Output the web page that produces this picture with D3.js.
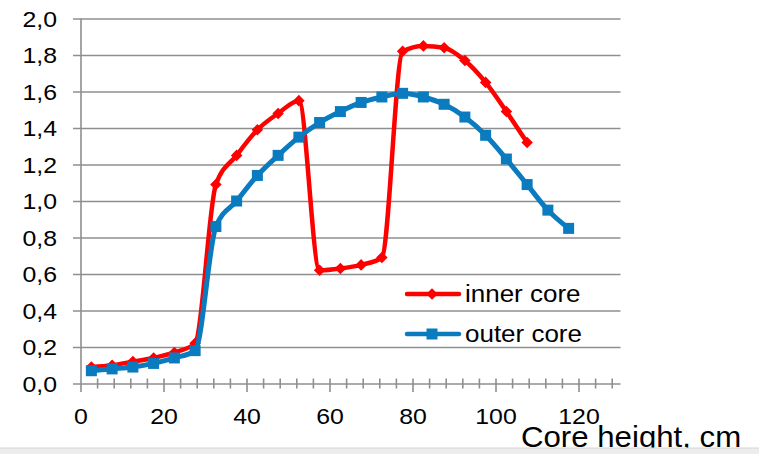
<!DOCTYPE html>
<html>
<head>
<meta charset="utf-8">
<script src="https://cdn.jsdelivr.net/npm/d3@7"></script>
<style>
  body { margin: 0; background: #fff; }
  text { font-family: "Liberation Sans", Arial, sans-serif; fill: #000; }
</style>
</head>
<body>
<script>
// core height positions, cm
const heights = [2.5, 7.5, 12.5, 17.5, 22.5, 27.5, 32.5, 37.5, 42.5, 47.5, 52.5, 57.5,
                 62.5, 67.5, 72.5, 77.5, 82.5, 87.5, 92.5, 97.5, 102.5, 107.5, 112.5, 117.5];
const innerCore = [0.09, 0.10, 0.12, 0.14, 0.17, 0.22, 1.09, 1.25, 1.39, 1.48, 1.55, 0.62,
                   0.63, 0.65, 0.69, 1.82, 1.85, 1.84, 1.77, 1.65, 1.49, 1.32];
const outerCore = [0.07, 0.08, 0.09, 0.11, 0.14, 0.18, 0.86, 1.00, 1.14, 1.25, 1.35, 1.43,
                   1.49, 1.54, 1.57, 1.59, 1.57, 1.53, 1.46, 1.36, 1.23, 1.09, 0.95, 0.85];
const yTicks = [0, 0.2, 0.4, 0.6, 0.8, 1.0, 1.2, 1.4, 1.6, 1.8, 2.0];
const xTicks = [0, 20, 40, 60, 80, 100, 120];
const seriesNames = ['inner core', 'outer core'];
const xTitle = 'Core height, cm';

const width  = 759;
const height = 454;
const red  = '#ff0000';
const blue = '#0b7bc0';
const grid = '#8f8f8f';

const svg = d3.select('body').append('svg')
    .attr('width', width)
    .attr('height', height);

const x = d3.scaleLinear().domain([0, 130]).range([81, 620.5]);
const y = d3.scaleLinear().domain([0, 2]).range([383.5, 18.5]);

// gridlines + left ticks
svg.append('g')
    .attr('transform', 'translate(81,0)')
    .call(d3.axisLeft(y).tickValues(yTicks).tickSize(8).tickFormat(''))
    .call(g => g.select('.domain').remove())
    .call(g => g.selectAll('line').attr('stroke', grid).attr('stroke-width', 1.6)
        .attr('x1', -8).attr('x2', x(130) - 81));

// y labels
svg.append('g').selectAll('text')
    .data(yTicks)
    .enter().append('text')
    .attr('transform', d => 'translate(57,' + (y(d) + 8) + ') scale(1.13,1)')
    .attr('text-anchor', 'end')
    .style('font-size', '22px')
    .text(d => d3.format('.1f')(d).replace('.', ','));

// vertical axis line
svg.append('line')
    .attr('x1', x(0)).attr('x2', x(0))
    .attr('y1', y(2)).attr('y2', y(0) + 8.5)
    .attr('stroke', grid).attr('stroke-width', 1.6);

// x minor ticks every 4
const minor = d3.range(4, 130, 4).filter(v => v % 20 !== 0);
svg.append('g').selectAll('line')
    .data(minor)
    .enter().append('line')
    .attr('x1', d => x(d)).attr('x2', d => x(d))
    .attr('y1', y(0) - 5).attr('y2', y(0) + 5)
    .attr('stroke', grid).attr('stroke-width', 1.6);

svg.append('g').selectAll('line')
    .data(xTicks.slice(1))
    .enter().append('line')
    .attr('x1', d => x(d)).attr('x2', d => x(d))
    .attr('y1', y(0) - 5).attr('y2', y(0) + 8.5)
    .attr('stroke', grid).attr('stroke-width', 1.6);

// x labels
svg.append('g').selectAll('text')
    .data(xTicks)
    .enter().append('text')
    .attr('transform', d => 'translate(' + x(d) + ',424) scale(1.13,1)')
    .attr('text-anchor', 'middle')
    .style('font-size', '22px')
    .text(d => d);

// series
const curve = d3.line()
    .x(d => x(d[0]))
    .y(d => y(d[1]))
    .curve(d3.curveMonotoneX);

const innerPts = innerCore.map((v, i) => [heights[i], v]);
const outerPts = outerCore.map((v, i) => [heights[i], v]);

const diamond = d3.symbol().type(d3.symbolDiamond2).size(85);

svg.append('path')
    .attr('d', curve(innerPts))
    .attr('fill', 'none').attr('stroke', red).attr('stroke-width', 4.5)
    .attr('stroke-linejoin', 'round');
svg.append('g').selectAll('path')
    .data(innerPts)
    .enter().append('path')
    .attr('d', diamond)
    .attr('transform', d => 'translate(' + x(d[0]) + ',' + y(d[1]) + ')')
    .attr('fill', red);

svg.append('path')
    .attr('d', curve(outerPts))
    .attr('fill', 'none').attr('stroke', blue).attr('stroke-width', 5)
    .attr('stroke-linejoin', 'round');
svg.append('g').selectAll('rect')
    .data(outerPts)
    .enter().append('rect')
    .attr('x', d => x(d[0]) - 5.5).attr('y', d => y(d[1]) - 5.5)
    .attr('width', 11).attr('height', 11)
    .attr('fill', blue);

// legend
const legend = svg.append('g');
const legendRows = [
  {name: seriesNames[0], color: red, ly: 294},
  {name: seriesNames[1], color: blue, ly: 334}
];
legendRows.forEach((r, i) => {
  legend.append('line')
      .attr('x1', 407).attr('x2', 459)
      .attr('y1', r.ly).attr('y2', r.ly)
      .attr('stroke', r.color).attr('stroke-width', 4.5)
      .attr('stroke-linecap', 'round');
  if (i === 0) {
    legend.append('path').attr('d', diamond)
        .attr('transform', 'translate(432,' + r.ly + ')').attr('fill', red);
  } else {
    legend.append('rect').attr('x', 426.5).attr('y', r.ly - 5.5)
        .attr('width', 11).attr('height', 11).attr('fill', blue);
  }
  legend.append('text')
      .attr('transform', 'translate(465,' + (r.ly + 8) + ') scale(1.13,1)')
      .style('font-size', '23px')
      .text(r.name);
});

// axis title
svg.append('text')
    .attr('transform', 'translate(521,447) scale(1.04,1)')
    .style('font-size', '30px')
    .text(xTitle);

// grey strip at the bottom edge
svg.append('rect')
    .attr('x', 0).attr('y', 448).attr('width', width).attr('height', 6)
    .attr('fill', '#ededed');
svg.append('line')
    .attr('x1', 0).attr('x2', width).attr('y1', 448).attr('y2', 448)
    .attr('stroke', '#d6d6d6').attr('stroke-width', 1);
</script>
</body>
</html>
